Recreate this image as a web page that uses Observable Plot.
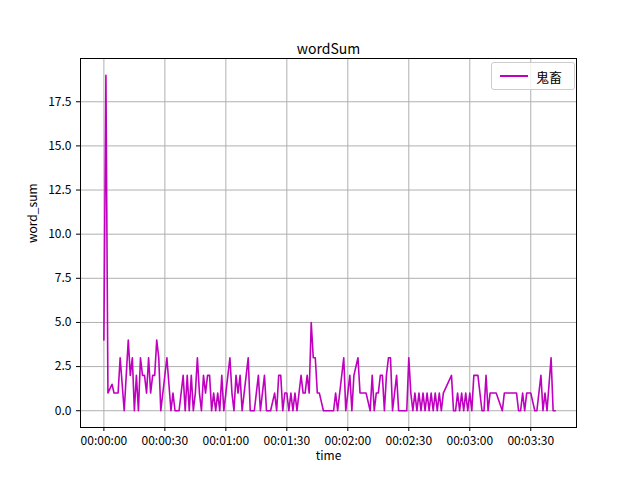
<!DOCTYPE html>
<html>
<head>
<meta charset="utf-8">
<script src="https://cdn.jsdelivr.net/npm/d3@7"></script>
<script src="https://cdn.jsdelivr.net/npm/@observablehq/plot@0.6"></script>
<style>
  body { margin: 0; background: #fff; font-family: "Noto Sans CJK SC", "DejaVu Sans", sans-serif; }
  #chart { position: relative; width: 640px; height: 480px; }
  #legend { position: absolute; left: 491px; top: 62px; width: 84px; height: 28px; border: 1px solid #ccc;
    border-radius: 3px; background: rgba(255,255,255,0.8); font-size: 13px; display: flex; align-items: center; box-sizing: border-box; }
  #legend span.sw { display: inline-block; width: 28px; height: 2px; background: #bf00bf; margin: 0 8px 0 8px; }
</style>
</head>
<body>
<div id="chart"><div id="legend"><span class="sw"></span>鬼畜</div></div>
<script>
// seconds since start, word count
const seconds = [0,1,2,4,5,7,8,10,12,13,14,15,16,17,18,19,20,21,22,23,24,25,26,27,28,31,33,34,35,37,39,40,41,42,43,44,45,46,47,48,49,50,51,52,53,54,55,56,57,58,59,60,62,63,64,65,66,67,68,69,70,71,72,74,76,77,79,80,82,84,85,86,87,88,89,90,91,92,93,94,95,97,98,99,100,101,102,103,104,105,106,108,113,114,115,118,119,121,122,123,125,126,129,131,132,133,134,135,136,137,138,139,140,141,142,144,145,149,150,151,152,153,154,155,156,157,158,159,160,161,162,163,164,165,166,167,171,172,173,174,175,176,177,178,179,180,181,182,184,186,187,188,189,190,193,196,197,203,204,205,206,207,208,209,210,212,213,215,216,217,218,220,221,222];
const wordSum = [4,19,1,1.5,1,1,3,0,4,2,3,0,2,0,3,2,2,1,3,1,2,2,4,3,0,3,0,1,0,0,2,0,2,0,2,0,1,3,1,0,2,1,2,2,0,1,0,1,0,2,0,1,3,1,0,2,1,2,0,1,2,3,0,0,2,0,2,0,0,1,0,2,2,0,1,1,0,1,0,1,0,2,1,1,2,1,5,3,3,1,1,0,0,1,0,3,0,2,0,2,3,1,1,0,2,0,1,1,2,2,0,2,3,3,0,2,0,0,3,1,0,1,0,1,0,1,0,1,0,1,0,1,0,1,0,1,2,0,0,1,0,1,0,1,0,1,0,2,2,0,0,2,0,1,1,0,1,1,0,0,1,0,1,1,1,0,0,2,0,1,0,3,0,0,4,0];
const yTicks = [0,2.5,5,7.5,10,12.5,15,17.5];
const xTicks = [0,30,60,90,120,150,180,210];

const data = seconds.map((t, i) => ({t, v: wordSum[i]}));
const fmt = s => [Math.floor(s/3600), Math.floor(s/60)%60, s%60].map(n => String(n).padStart(2,"0")).join(":");

const chart = Plot.plot({
  width: 640, height: 480,
  marginLeft: 80, marginRight: 64, marginTop: 58, marginBottom: 53,
  style: {fontFamily: "Noto Sans CJK SC, DejaVu Sans, sans-serif", fontSize: "12px", color: "#000", background: "transparent"},
  x: {domain: [-11.5, 232.5], ticks: xTicks, tickFormat: fmt, label: null, tickSize: 4},
  y: {domain: [-0.95, 19.95], ticks: yTicks, tickFormat: d3.format(".1f"), label: null, tickSize: 4},
  marks: [
    Plot.gridX(xTicks, {stroke: "#b0b0b0", strokeOpacity: 1}),
    Plot.gridY(yTicks, {stroke: "#b0b0b0", strokeOpacity: 1}),
    Plot.axisX({ticks: xTicks, tickFormat: fmt, tickSize: 4, fontSize: 12}),
    Plot.axisY({ticks: yTicks, tickFormat: d3.format(".1f"), tickSize: 4, fontSize: 12}),
    Plot.line(data, {x: "t", y: "v", stroke: "#bf00bf", strokeWidth: 1.6}),
    Plot.frame({stroke: "#000"}),
    Plot.text(["wordSum"], {frameAnchor: "top", dy: -14, fontSize: 14}),
    Plot.text(["time"], {frameAnchor: "bottom", dy: 32, fontSize: 12}),
    Plot.text(["word_sum"], {frameAnchor: "left", dx: -47, rotate: -90, fontSize: 12})
  ]
});
d3.select("#chart").insert(() => chart, "#legend");
d3.select(chart).style("position", "absolute").style("left", "0").style("top", "0");
d3.select("#legend").style("z-index", 2);
</script>
</body>
</html>
